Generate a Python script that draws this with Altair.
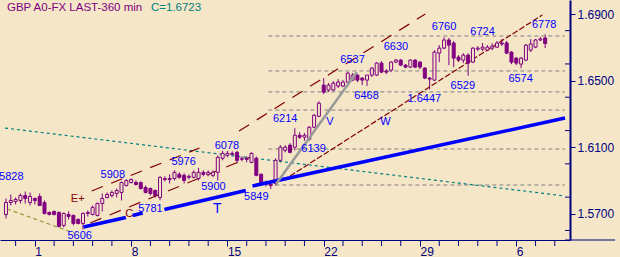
import altair as alt
import pandas as pd

# ---------------- data ----------------
opens = [1.5696,1.5768,1.5774,1.5780,1.5810,1.5768,1.5792,1.5804,1.5768,1.5708,
         1.5714,1.5708,1.5630,1.5696,1.5690,1.5666,1.5642,1.5702,1.5696,1.5690,
         1.5762,1.5798,1.5810,1.5822,1.5828,1.5870,1.5888,1.5888,1.5888,1.5858,
         1.5852,1.5840,1.5798,1.5906,1.5912,1.5912,1.5937,1.5931,1.5919,1.5919,
         1.5912,1.5949,1.5937,1.5931,1.5949,1.6033,1.6051,1.6063,1.6069,1.6027,
         1.6033,1.6009,1.6033,1.5937,1.5888,1.5876,1.5882,1.6021,1.6081,1.6112,
         1.6100,1.6172,1.6160,1.6148,1.6220,1.6286,1.6473,1.6443,1.6443,1.6467,
         1.6467,1.6491,1.6503,1.6533,1.6515,1.6503,1.6533,1.6533,1.6605,1.6557,
         1.6563,1.6611,1.6623,1.6593,1.6581,1.6623,1.6611,1.6575,1.6515,1.6503,
         1.6665,1.6695,1.6744,1.6726,1.6641,1.6623,1.6653,1.6611,1.6689,1.6689,
         1.6683,1.6695,1.6701,1.6726,1.6726,1.6671,1.6635,1.6599,1.6623,1.6683,
         1.6701,1.6744,1.6756]
highs = [1.5792,1.5816,1.5798,1.5822,1.5834,1.5828,1.5798,1.5822,1.5780,1.5714,
         1.5720,1.5714,1.5708,1.5714,1.5696,1.5672,1.5708,1.5720,1.5750,1.5768,
         1.5822,1.5828,1.5840,1.5852,1.5894,1.5908,1.5912,1.5900,1.5894,1.5870,
         1.5858,1.5846,1.5925,1.5925,1.5937,1.5961,1.5949,1.5943,1.5937,1.5961,
         1.5976,1.5961,1.5961,1.5961,1.6051,1.6078,1.6078,1.6075,1.6078,1.6045,
         1.6045,1.6069,1.6045,1.5943,1.5900,1.5888,1.6033,1.6112,1.6112,1.6124,
         1.6214,1.6190,1.6184,1.6226,1.6298,1.6376,1.6515,1.6485,1.6497,1.6509,
         1.6503,1.6551,1.6545,1.6539,1.6521,1.6533,1.6581,1.6611,1.6617,1.6569,
         1.6617,1.6630,1.6630,1.6599,1.6629,1.6629,1.6617,1.6581,1.6521,1.6683,
         1.6713,1.6760,1.6756,1.6738,1.6653,1.6665,1.6665,1.6701,1.6707,1.6726,
         1.6713,1.6724,1.6738,1.6750,1.6738,1.6677,1.6641,1.6641,1.6720,1.6750,
         1.6750,1.6762,1.6778]
lows = [1.5672,1.5750,1.5756,1.5762,1.5762,1.5750,1.5756,1.5750,1.5696,1.5690,
        1.5690,1.5618,1.5618,1.5666,1.5630,1.5636,1.5606,1.5684,1.5690,1.5684,
        1.5714,1.5792,1.5798,1.5798,1.5780,1.5864,1.5882,1.5870,1.5846,1.5822,
        1.5810,1.5798,1.5781,1.5894,1.5882,1.5900,1.5912,1.5882,1.5906,1.5912,
        1.5900,1.5925,1.5925,1.5919,1.5900,1.6021,1.6039,1.6045,1.6003,1.6015,
        1.6009,1.6003,1.5925,1.5870,1.5864,1.5849,1.5870,1.6009,1.6069,1.6063,
        1.6081,1.6150,1.6139,1.6139,1.6214,1.6280,1.6419,1.6431,1.6437,1.6455,
        1.6461,1.6485,1.6497,1.6491,1.6473,1.6468,1.6521,1.6527,1.6545,1.6539,
        1.6551,1.6605,1.6587,1.6575,1.6575,1.6575,1.6569,1.6509,1.6447,1.6497,
        1.6611,1.6689,1.6593,1.6581,1.6611,1.6605,1.6529,1.6605,1.6677,1.6677,
        1.6677,1.6683,1.6695,1.6707,1.6659,1.6599,1.6593,1.6574,1.6617,1.6671,
        1.6695,1.6738,1.6695]
closes = [1.5768,1.5780,1.5786,1.5810,1.5792,1.5804,1.5780,1.5750,1.5702,1.5696,
          1.5696,1.5624,1.5702,1.5684,1.5642,1.5642,1.5702,1.5708,1.5738,1.5762,
          1.5792,1.5816,1.5828,1.5840,1.5888,1.5900,1.5906,1.5876,1.5852,1.5828,
          1.5822,1.5810,1.5919,1.5912,1.5906,1.5949,1.5919,1.5900,1.5925,1.5949,
          1.5949,1.5937,1.5949,1.5949,1.6039,1.6063,1.6063,1.6057,1.6021,1.6033,
          1.6027,1.6063,1.5931,1.5882,1.5876,1.5870,1.6021,1.6100,1.6100,1.6069,
          1.6172,1.6160,1.6172,1.6220,1.6292,1.6364,1.6431,1.6473,1.6485,1.6491,
          1.6491,1.6545,1.6533,1.6503,1.6503,1.6533,1.6575,1.6605,1.6551,1.6551,
          1.6611,1.6623,1.6593,1.6581,1.6623,1.6581,1.6581,1.6515,1.6509,1.6671,
          1.6695,1.6744,1.6713,1.6635,1.6623,1.6653,1.6605,1.6695,1.6695,1.6701,
          1.6701,1.6707,1.6726,1.6720,1.6665,1.6611,1.6605,1.6635,1.6713,1.6720,
          1.6744,1.6750,1.6723]

# x-axis: bar index; labels on Mondays, unlabeled ticks on the other days
monday_index = [6, 26, 46, 66, 86, 106]
monday_labels = ["1", "8", "15", "22", "29", "6"]
day_tick_index = [i for i in range(2, 115, 4) if i not in monday_index]

# y-axis: labeled values and unlabeled in-between ticks
y_label_values = [1.57, 1.59, 1.61, 1.63, 1.65, 1.67, 1.69]
y_minor_values = [1.56, 1.58, 1.60, 1.62, 1.64, 1.66, 1.68]

# horizontal dashed reference levels (start at the 5849 low)
level_prices = [1.6768, 1.6558, 1.6432, 1.6323, 1.6089, 1.5873]
level_start = 54.5
level_end = 116.12

# trend / channel lines: (i1, p1, i2, p2)
teal_line = [(-0.2, 1.6215, 116.12, 1.5807)]
olive_line = [(0.2, 1.5729, 14.1, 1.5585)]
blue_lines = [(16.1, 1.5621, 24.9, 1.5678), (26.3, 1.5690, 28.4, 1.5705),
              (32.9, 1.5726, 49.8, 1.5840), (51.2, 1.5867, 116.12, 1.6275)]
gray_line = [(56.1, 1.5879, 72.9, 1.6552)]
maroon_dashed = [(17.8, 1.5837, 40.2, 1.6095), (17.5, 1.5645, 50.8, 1.6041),
                 (48.4, 1.6197, 87.1, 1.6900)]
maroon_fine = [(59.0, 1.5927, 111.4, 1.6894)]

# annotations
blue_text = ["5828", "5606", "5908", "5976", "6078", "5781", "5900", "5849",
             "6214", "6139", "V", "W", "6537", "6468", "6630", "1.6447",
             "6760", "6724", "6529", "6574", "6778"]
blue_text_i = [1.1, 15.3, 22.2, 36.9, 45.9, 30.0, 43.1, 52.0,
               58.0, 63.9, 67.3, 78.8, 72.0, 74.9, 81.0, 86.9,
               91.0, 99.0, 94.9, 106.9, 111.8]
blue_text_p = [1.5921, 1.5567, 1.5933, 1.6011, 1.6107, 1.5729, 1.5861, 1.5801,
               1.6269, 1.6089, 1.6251, 1.6251, 1.6624, 1.6408, 1.6702, 1.6389,
               1.6822, 1.6792, 1.6468, 1.6510, 1.6834]
big_text = ["T"]
big_text_i = [43.9]
big_text_p = [1.5729]
maroon_text = ["E+", "C"]
maroon_text_i = [14.9, 25.6]
maroon_text_p = [1.5789, 1.5697]

title_text = "GBP A0-FX LAST-360 min"
close_text = "C=1.6723"

# ---------------- styling ----------------
BG = "#F5E6C8"
PURPLE = "#800080"
NAVY = "#000080"
FONT = "Liberation Sans"

X_MIN, X_MAX = -0.204, 116.12
Y_MIN, Y_MAX = 1.55426, 1.69841
xs = alt.Scale(domain=[X_MIN, X_MAX], nice=False, zero=False)
ys = alt.Scale(domain=[Y_MIN, Y_MAX], nice=False, zero=False)
PX_X = (X_MAX - X_MIN) / 570.0   # data units per pixel
PX_Y = (Y_MAX - Y_MIN) / 240.0

df = pd.DataFrame({"i": list(range(len(opens))), "open": opens, "high": highs,
                   "low": lows, "close": closes})
df["dir"] = ["up" if c >= o else "down" for o, c in zip(opens, closes)]

label_expr = " : ".join(
    [f"datum.value == {m} ? '{l}'" for m, l in zip(monday_index, monday_labels)]
) + " : ''"

x_axis = alt.Axis(values=monday_index, labelExpr=label_expr, title=None, grid=False,
                  tickSize=6, labelAlign="left", labelPadding=0,
                  labelFontSize=12, labelFont=FONT, labelColor=NAVY,
                  domainColor=NAVY, tickColor=NAVY, labelOverlap=False,
                  labelBaseline="top", labelFlush=False)
y_axis = alt.Axis(orient="right", values=y_label_values, format=".4f",
                  title=None, grid=False, tickSize=5, labelPadding=2,
                  labelFontSize=12, labelFont=FONT, labelColor=NAVY,
                  domainColor=NAVY, tickColor=NAVY, domainWidth=2, labelFlush=False,
                  labelOverlap=False)

wicks = alt.Chart(df).mark_rule(color=PURPLE, strokeWidth=1).encode(
    x=alt.X("i:Q", scale=xs, axis=x_axis),
    y=alt.Y("low:Q", scale=ys, axis=y_axis),
    y2="high:Q",
)
bodies = alt.Chart(df).mark_bar(size=3, stroke=PURPLE, strokeWidth=1).encode(
    x=alt.X("i:Q", scale=xs),
    y=alt.Y("open:Q", scale=ys),
    y2="close:Q",
    fill=alt.Fill("dir:N", scale=alt.Scale(domain=["up", "down"], range=[BG, PURPLE]), legend=None),
)


def seg_layer(segs, color, width, dash=None, clip=True):
    d = pd.DataFrame(segs, columns=["i1", "p1", "i2", "p2"])
    kw = dict(color=color, strokeWidth=width, clip=clip)
    if dash:
        kw["strokeDash"] = dash
    return alt.Chart(d).mark_rule(**kw).encode(
        x=alt.X("i1:Q", scale=xs), y=alt.Y("p1:Q", scale=ys),
        x2="i2:Q", y2="p2:Q")


levels = seg_layer([(level_start, p, level_end, p) for p in level_prices], "#808080", 1, [4, 3])
teal = seg_layer(teal_line, "#008080", 1.2, [3, 3])
olive = seg_layer(olive_line, "#999933", 1.2, [4, 3])
mdash = seg_layer(maroon_dashed, "#800000", 1.2, [12, 9])
mfine = seg_layer(maroon_fine, "#800000", 1.2, [6, 2])
blue = seg_layer(blue_lines, "#0000FF", 3.5)
gray = seg_layer(gray_line, "#999999", 2.5)
baseline_ext = seg_layer([(X_MAX, Y_MIN, X_MAX + 51 * PX_X, Y_MIN)], NAVY, 1, clip=False)
x_minor = seg_layer([(t, Y_MIN, t, Y_MIN - 6 * PX_Y) for t in day_tick_index], NAVY, 1, clip=False)
y_minor = seg_layer([(X_MAX, v, X_MAX + 5 * PX_X, v) for v in y_minor_values], NAVY, 1, clip=False)


def text_layer(labels, ii, pp, color, size, align="center"):
    d = pd.DataFrame({"t": labels, "i": ii, "p": pp})
    return alt.Chart(d).mark_text(color=color, fontSize=size, font=FONT, align=align,
                                  baseline="middle").encode(
        x=alt.X("i:Q", scale=xs), y=alt.Y("p:Q", scale=ys), text="t:N")


blue_labels = text_layer(blue_text, blue_text_i, blue_text_p, "#0000FF", 11)
t_label = text_layer(big_text, big_text_i, big_text_p, "#0000FF", 14)
m_labels = text_layer(maroon_text, maroon_text_i, maroon_text_p, "#800000", 11)
title1 = text_layer([title_text], [0.2], [1.6936], PURPLE, 11.5, align="left")
title2 = text_layer([close_text], [30.1], [1.6936], "#008080", 11.5, align="left")

chart = alt.layer(
    wicks, levels, teal, olive, mdash, mfine, bodies, m_labels, blue, gray,
    baseline_ext, x_minor, y_minor,
    blue_labels, t_label, title1, title2,
).properties(
    width=570, height=240,
    autosize=alt.AutoSizeParams(type="none"),
    padding={"left": 0, "top": 0, "right": 50, "bottom": 17},
    background=BG,
).configure_view(stroke=None)

chart.save("out.html", embed_options={"renderer": "svg", "actions": False})
